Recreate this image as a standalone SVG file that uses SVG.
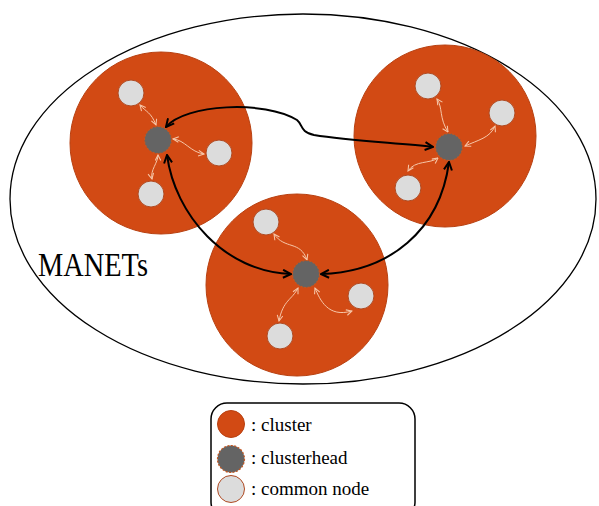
<svg xmlns="http://www.w3.org/2000/svg" width="599" height="506" viewBox="0 0 599 506">
<defs>
<style>
.cluster{fill:#D24A14;stroke:#B84010;stroke-width:1}
.node{fill:#DCDCDC;stroke:#B04A22;stroke-width:1}
.head{fill:#646464;stroke:#C8561E;stroke-width:1.2;stroke-dasharray:2 1.5}
.big{fill:none;stroke:#000;stroke-width:2;marker-start:url(#bigArrow);marker-end:url(#bigArrow)}
.small{fill:none;stroke:#F6C6A8;stroke-width:1;marker-start:url(#smallArrow);marker-end:url(#smallArrow)}
</style>
<marker id="bigArrow" viewBox="0 0 10 10" refX="9" refY="5" markerWidth="10" markerHeight="10" markerUnits="userSpaceOnUse" orient="auto-start-reverse">
<path d="M1,1 L9,5 L1,9" fill="none" stroke="#000" stroke-width="2"/>
</marker>
<marker id="smallArrow" viewBox="0 0 10 10" refX="9" refY="5" markerWidth="7" markerHeight="7" markerUnits="userSpaceOnUse" orient="auto-start-reverse">
<path d="M1,1 L9,5 L1,9" fill="none" stroke="#F6C6A8" stroke-width="1.5"/>
</marker>
</defs>

<ellipse id="manet" cx="303" cy="199" rx="293" ry="185" fill="none" stroke="#000" stroke-width="1.3"/>
<text x="38" y="276" font-family="Liberation Serif, Times New Roman, serif" font-size="34" textLength="110" lengthAdjust="spacingAndGlyphs">MANETs</text>

<g id="cluster-left">
<circle class="cluster" cx="161" cy="143" r="91"/>
<g class="links">
<path class="small" d="M140,105 C146,112 151,112 156,125"/>
<path class="small" d="M173,139 C185,140 190,152 204,154"/>
<path class="small" d="M158,155 C158,163 150,170 152,179"/>
</g>
<circle class="node" cx="131" cy="93" r="13"/>
<circle class="node" cx="219" cy="153" r="13"/>
<circle class="node" cx="151" cy="194" r="13"/>
<circle class="head" cx="158" cy="140" r="13.5"/>
</g>

<g id="cluster-right">
<circle class="cluster" cx="445" cy="136" r="91"/>
<g class="links">
<path class="small" d="M437,99 C443,108 439,118 448,132"/>
<path class="small" d="M495,126 C490,138 478,140 465,146"/>
<path class="small" d="M438,158 C430,164 415,160 408,171"/>
</g>
<circle class="node" cx="428" cy="86" r="13"/>
<circle class="node" cx="502" cy="113" r="13"/>
<circle class="node" cx="408" cy="188" r="13"/>
<circle class="head" cx="449" cy="147" r="13.5"/>
</g>

<g id="cluster-bottom">
<circle class="cluster" cx="297" cy="285" r="91"/>
<g class="links">
<path class="small" d="M274,234 C285,250 300,240 307,260"/>
<path class="small" d="M298,288 C292,300 283,300 279,321"/>
<path class="small" d="M315,288 C320,300 328,318 352,311"/>
</g>
<circle class="node" cx="266" cy="222" r="13"/>
<circle class="node" cx="361" cy="296" r="13"/>
<circle class="node" cx="280" cy="336" r="13"/>
<circle class="head" cx="306" cy="274" r="13.5"/>
</g>

<g id="connectors">
<path class="big" d="M166,127 C185,104 265,100 297,120 C303,125 300,132 314,135 C350,141 400,143 433,147"/>
<path class="big" d="M167,155 C175,215 225,272 291,274"/>
<path class="big" d="M449,162 C440,230 390,272 321,274"/>
</g>

<g id="legend">
<rect x="211" y="403" width="204" height="115" rx="16" ry="16" fill="#fff" stroke="#000" stroke-width="1.5"/>
<g id="legend-cluster">
<circle class="cluster" cx="231" cy="424" r="13.5"/>
<text x="251" y="431" font-family="Liberation Serif, Times New Roman, serif" font-size="19">: cluster</text>
</g>
<g id="legend-clusterhead">
<circle class="head" cx="231" cy="459" r="13.5"/>
<text x="251" y="464" font-family="Liberation Serif, Times New Roman, serif" font-size="19">: clusterhead</text>
</g>
<g id="legend-node">
<circle class="node" cx="231" cy="489" r="13.5"/>
<text x="251" y="495" font-family="Liberation Serif, Times New Roman, serif" font-size="19">: common node</text>
</g>
</g>
</svg>
